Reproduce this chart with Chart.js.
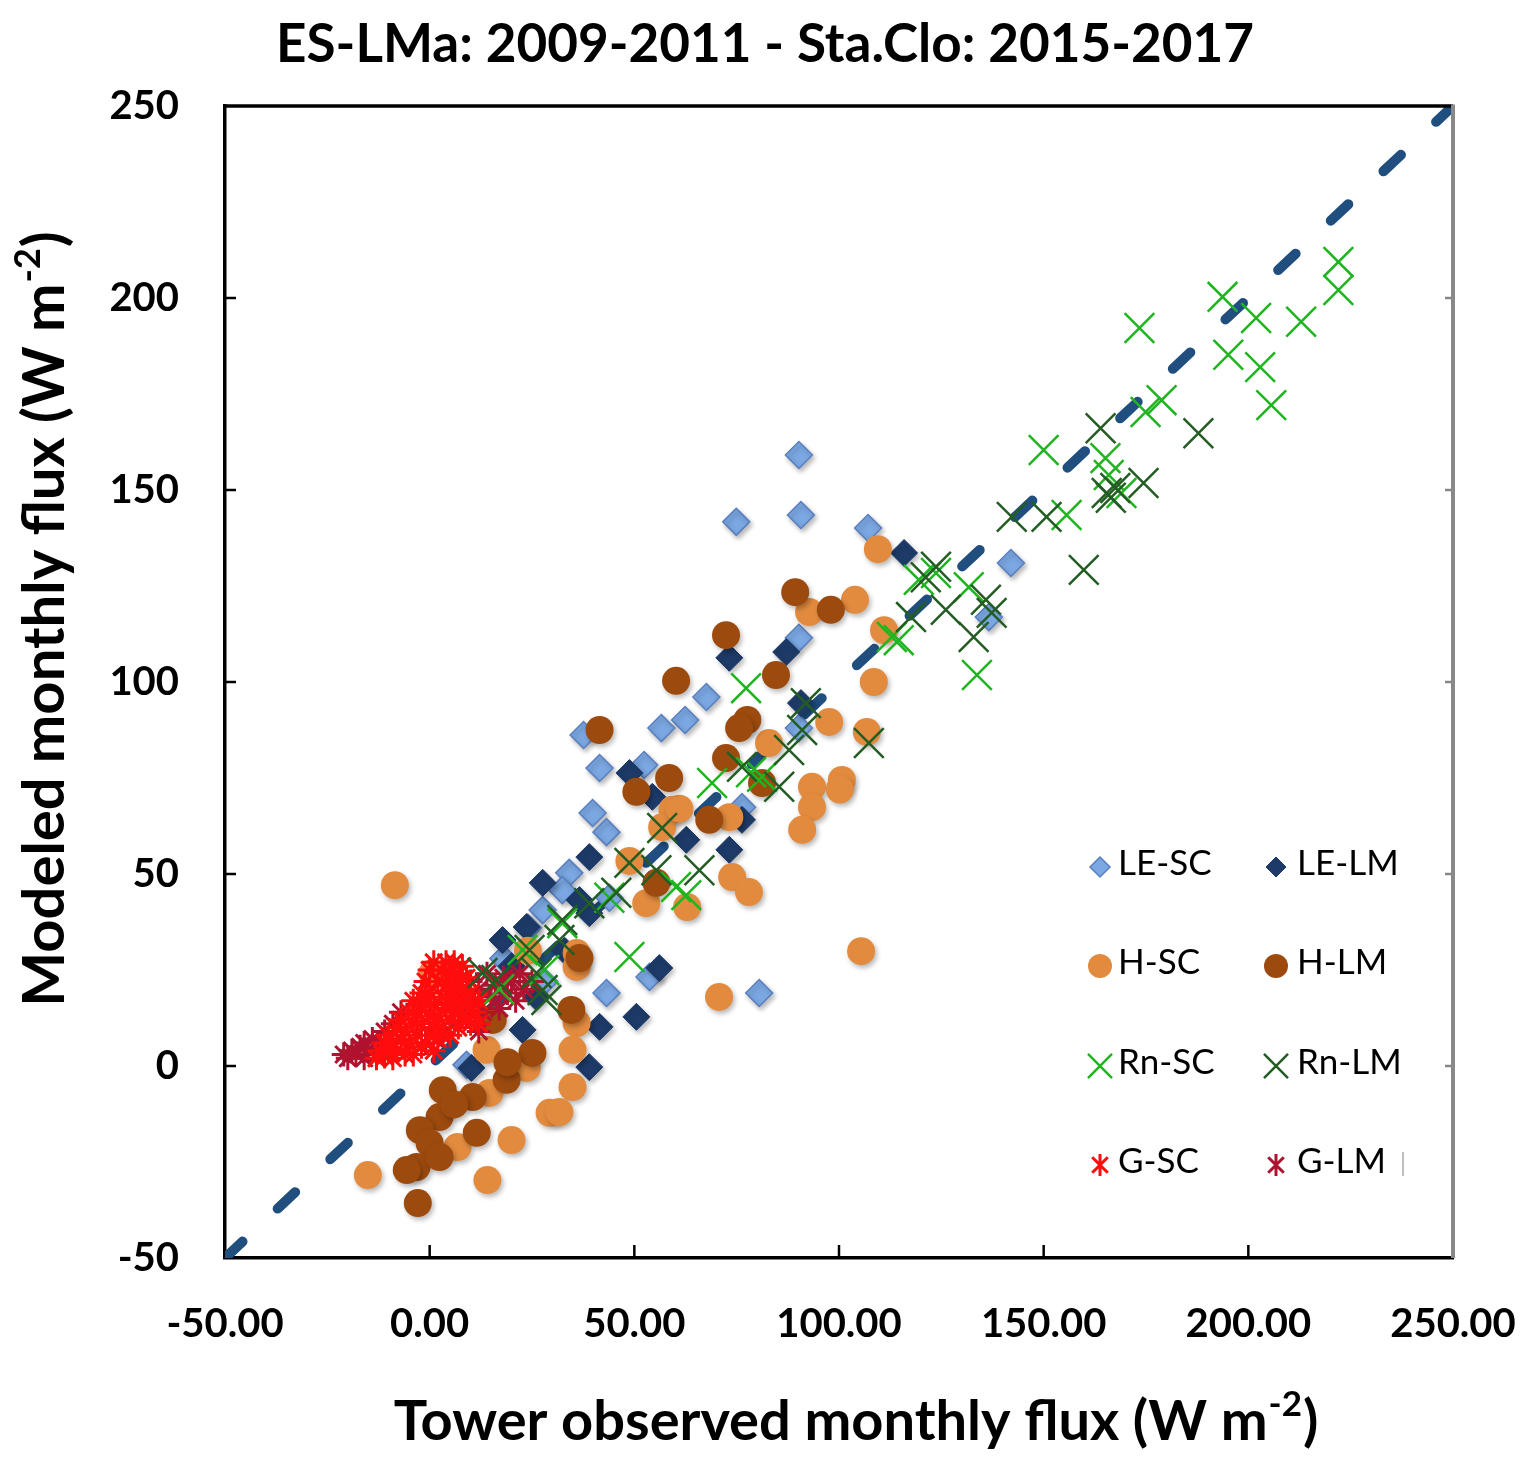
<!DOCTYPE html>
<html><head><meta charset="utf-8">
<script src="https://cdn.jsdelivr.net/npm/chart.js@4.4.1/dist/chart.umd.min.js"></script>
<style>html,body{margin:0;padding:0;background:#fff}#wrap{width:1539px;height:1472px;position:relative}</style>
</head><body><div id="wrap"><canvas id="c"></canvas></div>
<script>
// ---- text ----
const chartTitle = 'ES-LMa: 2009-2011 - Sta.Clo: 2015-2017';
const xTitleParts = ['Tower observed monthly flux (W m', '-2', ')'];
const yTitleParts = ['Modeled monthly flux (W m', '-2', ')'];
const xTickLabels = ['-50.00', '0.00', '50.00', '100.00', '150.00', '200.00', '250.00'];
const yTickLabels = ['-50', '0', '50', '100', '150', '200', '250'];
const seriesNames = ['LE-SC', 'LE-LM', 'H-SC', 'H-LM', 'Rn-SC', 'Rn-LM', 'G-SC', 'G-LM'];

// ---- data [observed, modeled] ----
const leSC = [[90.2,159.1],[74.9,141.7],[90.7,143.5],[107.1,140.1],[142.0,131.0],[136.6,116.9],[90.2,111.5],[67.6,96.1],[62.4,90.1],[56.6,88.0],[37.6,86.2],[41.5,77.6],[52.4,78.4],[39.8,65.9],[43.2,60.9],[90.2,88.0],[76.3,67.4],[34.1,50.3],[32.4,45.8],[27.6,40.6],[43.9,43.8],[43.2,19.0],[80.5,19.0],[53.7,23.2],[9.0,0.3],[24.0,36.0],[18.0,28.0],[28.0,22.0]];
const leLM = [[115.9,133.6],[73.2,106.3],[87.1,107.8],[90.7,94.5],[76.3,64.1],[73.2,56.3],[48.8,76.3],[54.4,70.1],[62.7,58.9],[39.0,54.4],[27.6,47.7],[36.6,43.2],[39.0,39.8],[23.7,36.2],[56.1,25.5],[50.5,12.8],[41.5,10.2],[39.0,-0.3],[22.7,9.4],[17.8,32.8],[10.2,-0.5],[33.0,30.0],[26.0,18.0],[20.0,26.0]];
const hSC = [[-8.5,47.1],[109.5,134.6],[103.9,121.4],[111.0,113.5],[92.7,118.2],[108.5,100.0],[97.6,89.6],[106.8,87.0],[82.9,84.1],[93.4,72.7],[100.7,74.5],[93.4,67.4],[91.0,61.5],[73.2,64.8],[59.3,66.7],[56.8,62.2],[48.8,53.4],[52.9,42.4],[62.9,41.4],[73.9,49.2],[78.0,45.3],[70.7,18.0],[105.4,29.9],[35.9,29.4],[35.9,25.8],[35.9,11.2],[34.9,4.2],[34.9,-5.5],[29.3,-12.2],[31.7,-12.0],[20.0,-19.3],[14.1,-29.7],[-15.1,-28.4],[6.8,-21.1],[14.6,-7.0],[13.9,4.2],[23.7,-0.5],[0.7,24.2],[24.0,30.0],[100.2,72.0],[61.0,67.0]];
const hLM = [[89.3,123.4],[98.0,118.8],[72.4,112.2],[60.2,100.3],[84.6,101.8],[41.5,87.5],[77.6,90.1],[75.6,88.0],[72.4,80.2],[58.5,75.0],[50.5,71.4],[68.3,64.1],[81.2,73.7],[55.4,47.7],[36.6,28.1],[34.6,14.6],[25.1,3.4],[18.8,-3.6],[19.0,1.0],[3.2,-6.3],[10.5,-8.1],[2.4,-13.3],[11.5,-17.4],[-2.4,-16.7],[0.0,-20.1],[-3.2,-26.3],[-5.6,-27.1],[-2.9,-35.7],[15.4,12.0],[2.4,-23.7],[6.0,-10.0]];
const rnSC = [[222.0,209.4],[222.0,202.1],[193.7,200.3],[201.9,194.8],[212.9,193.8],[195.1,185.2],[202.9,182.0],[205.6,172.1],[173.4,192.2],[178.8,173.4],[174.9,170.3],[150.0,160.4],[165.1,158.3],[165.9,153.9],[169.0,149.2],[155.6,143.5],[119.5,126.6],[123.7,128.4],[131.7,124.7],[112.9,111.7],[114.6,110.9],[133.7,101.8],[77.3,98.4],[69.0,73.7],[81.2,75.3],[78.5,76.5],[48.8,28.4],[43.9,43.8],[62.7,44.5],[60.2,46.6],[32.4,37.2],[22.7,30.2],[28.0,25.0],[17.0,20.0]];
const rnLM = [[187.8,164.8],[163.9,166.1],[159.8,129.2],[174.4,151.8],[165.4,149.2],[166.4,148.0],[167.5,150.5],[142.2,143.0],[150.7,143.0],[123.7,130.0],[121.2,127.3],[135.9,121.4],[137.3,118.0],[126.1,118.8],[117.6,116.9],[132.9,111.7],[91.9,94.5],[91.0,87.5],[87.8,82.3],[107.3,84.1],[76.3,77.9],[85.4,72.7],[56.8,62.0],[48.8,52.9],[55.4,51.0],[65.9,51.0],[39.0,42.4],[32.4,38.0],[31.7,32.8],[24.4,30.2],[26.1,24.2],[28.5,17.2],[12.9,24.2],[16.3,22.4],[27.6,19.8],[45.6,45.1]];
const gSC = [[-13,2],[-12,4],[-11,6],[-11,2.5],[-10,8],[-10,4],[-9,2],[-9,6],[-8,10],[-8,4],[-7,7],[-7,12],[-6,3],[-6,9],[-5,14],[-5,6],[-4,11],[-4,17],[-4,3],[-3,8],[-3,14],[-2,19],[-2,5],[-2,11],[-1,16],[-1,22],[0,8],[0,13],[0,19],[0,25],[1,4],[1,10],[1,16],[1,27],[2,22],[2,7],[2,13],[3,18],[3,25],[3,10],[4,15],[4,21],[4,27],[5,8],[5,12],[5,18],[5,24],[6,14],[6,21],[6,27],[7,10],[7,17],[7,24],[8,13],[8,20],[8,26],[9,16],[9,23],[10,11],[10,19],[11,14],[12,17],[12,11]];
const gLM = [[-21,3],[-20,2],[-19,4],[-18,3],[-17,5],[-16,2],[-16,6],[-15,4],[-14,7],[-13,3],[-12,6],[-11,9],[-9,11],[-7,14],[-3,16],[-1,6],[3,8],[6,11],[7,16],[8,19],[9,13],[10,22],[11,17],[12,20],[13,14],[14,24],[15,18],[16,21],[17,15],[18,23],[19,19],[20,22],[21,17],[22,24],[23,20],[25,22],[12,9]];
const oneToOne = [[-50,-50],[250,250]];

const toXY = a => a.map(p => ({x: p[0], y: p[1]}));
const FONT = 'Lato, "Open Sans", sans-serif';

const styles = [
  {style:'rectRot', r:13.5, bg:'#7ba7e2', bc:'#587fc0', bw:1.5, lr:10},
  {style:'rectRot', r:13.5, bg:'#1d3a68', bc:'#1d3a68', bw:1, lr:10},
  {style:'circle', r:14, bg:'#e28b3f', bc:'#e28b3f', bw:0, lr:12},
  {style:'circle', r:14, bg:'#9c4a0e', bc:'#9c4a0e', bw:0, lr:12},
  {style:'crossRot', r:21, bg:'#1fb51f', bc:'#1fb51f', bw:2.5, lr:17},
  {style:'crossRot', r:21, bg:'#235d23', bc:'#235d23', bw:2.5, lr:17},
  {style:'star', r:12, bg:'#ff0d0d', bc:'#ff0d0d', bw:3, lr:11},
  {style:'star', r:12, bg:'#b0132f', bc:'#b0132f', bw:3, lr:11}
];
const seriesData = [leSC, leLM, hSC, hLM, rnSC, rnLM, gSC, gLM];
const drawOrder = [8, 7, 6, 5, 2, 1, 3, 4]; // lower = drawn on top

const datasets = seriesData.map((d, i) => ({
  label: seriesNames[i],
  type: 'scatter',
  data: toXY(d),
  pointStyle: styles[i].style,
  pointRadius: styles[i].r,
  pointHoverRadius: styles[i].r,
  backgroundColor: styles[i].bg,
  borderColor: styles[i].bc,
  pointBorderWidth: styles[i].bw,
  borderWidth: styles[i].bw,
  order: drawOrder[i],
  shadow: (styles[i].style === 'rectRot' || styles[i].style === 'circle')
}));
datasets.push({
  label: '1:1',
  type: 'line',
  data: toXY(oneToOne),
  borderColor: '#1f4e7f',
  borderWidth: 10,
  borderDash: [24, 48.2],
  borderCapStyle: 'round',
  pointRadius: 0,
  fill: false,
  order: 20
});

function drawMarker(ctx, style, x, y, r, s) {
  ctx.save();
  ctx.fillStyle = s.bg; ctx.strokeStyle = s.bc; ctx.lineWidth = s.bw || 1;
  ctx.beginPath();
  if (style === 'rectRot') {
    ctx.moveTo(x - r, y); ctx.lineTo(x, y - r); ctx.lineTo(x + r, y); ctx.lineTo(x, y + r); ctx.closePath();
    ctx.fill(); if (s.bw) ctx.stroke();
  } else if (style === 'circle') {
    ctx.arc(x, y, r, 0, Math.PI * 2); ctx.fill();
  } else if (style === 'crossRot') {
    const o = r * Math.SQRT1_2;
    ctx.moveTo(x - o, y - o); ctx.lineTo(x + o, y + o);
    ctx.moveTo(x - o, y + o); ctx.lineTo(x + o, y - o); ctx.stroke();
  } else if (style === 'star') {
    const o = r * Math.SQRT1_2;
    ctx.moveTo(x, y - r); ctx.lineTo(x, y + r);
    ctx.moveTo(x - o, y - o); ctx.lineTo(x + o, y + o);
    ctx.moveTo(x - o, y + o); ctx.lineTo(x + o, y - o); ctx.stroke();
  }
  ctx.restore();
}

function drawSup(ctx, parts, x, y, size, align) {
  ctx.font = 'bold ' + size + 'px ' + FONT;
  const w0 = ctx.measureText(parts[0]).width;
  const w2 = ctx.measureText(parts[2]).width;
  ctx.font = 'bold ' + Math.round(size * 0.62) + 'px ' + FONT;
  const w1 = ctx.measureText(parts[1]).width;
  const total = w0 + w1 + w2 + 2;
  let sx = align === 'center' ? x - total / 2 : x;
  ctx.textAlign = 'left'; ctx.textBaseline = 'alphabetic';
  ctx.font = 'bold ' + size + 'px ' + FONT;
  ctx.fillText(parts[0], sx, y);
  ctx.font = 'bold ' + Math.round(size * 0.62) + 'px ' + FONT;
  ctx.fillText(parts[1], sx + w0 + 1, y - size * 0.42);
  ctx.font = 'bold ' + size + 'px ' + FONT;
  ctx.fillText(parts[2], sx + w0 + w1 + 2, y);
}

const decor = {
  id: 'decor',
  beforeDatasetDraw(chart, args) {
    const ds = chart.data.datasets[args.index];
    const ctx = chart.ctx;
    ctx.save();
    if (ds.shadow) {
      ctx.shadowColor = 'rgba(0,0,0,0.28)';
      ctx.shadowBlur = 5; ctx.shadowOffsetX = 2; ctx.shadowOffsetY = 3;
    }
  },
  afterDatasetDraw(chart) { chart.ctx.restore(); },
  afterDraw(chart) {
    const ctx = chart.ctx, a = chart.chartArea;
    const xs = chart.scales.x, ys = chart.scales.y;
    ctx.save();
    // top border
    ctx.strokeStyle = '#000'; ctx.lineWidth = 3.5;
    ctx.beginPath(); ctx.moveTo(a.left - 1.5, a.top); ctx.lineTo(a.right, a.top); ctx.stroke();
    // right border (grey)
    ctx.strokeStyle = '#888'; ctx.lineWidth = 4;
    ctx.beginPath(); ctx.moveTo(a.right, a.top - 1.5); ctx.lineTo(a.right, a.bottom); ctx.stroke();
    // inward ticks
    ctx.lineWidth = 2.5;
    [0, 50, 100, 150, 200].forEach(v => {
      const py = ys.getPixelForValue(v);
      ctx.strokeStyle = '#000';
      ctx.beginPath(); ctx.moveTo(a.left, py); ctx.lineTo(a.left + 11, py); ctx.stroke();
      ctx.strokeStyle = '#888';
      ctx.beginPath(); ctx.moveTo(a.right, py); ctx.lineTo(a.right - 8, py); ctx.stroke();
      const px = xs.getPixelForValue(v);
      ctx.strokeStyle = '#000';
      ctx.beginPath(); ctx.moveTo(px, a.bottom); ctx.lineTo(px, a.bottom - 13); ctx.stroke();
    });
    // titles
    ctx.fillStyle = '#000';
    ctx.font = 'bold 53px ' + FONT; ctx.textAlign = 'center'; ctx.textBaseline = 'alphabetic';
    ctx.fillText(chartTitle, 765, 62);
    drawSup(ctx, xTitleParts, 856, 1440, 56, 'center');
    ctx.save();
    ctx.translate(64, 619); ctx.rotate(-Math.PI / 2);
    drawSup(ctx, yTitleParts, 0, 0, 58, 'center');
    ctx.restore();
    // legend
    const colX = [[1100, 1118], [1276, 1297]];
    const rowY = [864, 963, 1063, 1162];
    ctx.font = '35px ' + FONT; ctx.textAlign = 'left'; ctx.textBaseline = 'middle';
    seriesNames.forEach((n, i) => {
      const c = colX[i % 2], yy = rowY[Math.floor(i / 2)];
      const s = styles[i];
      drawMarker(ctx, s.style, c[0], yy + 3, s.lr, s);
      ctx.fillStyle = '#000';
      ctx.fillText(n, c[1], yy);
    });
    ctx.strokeStyle = '#aaa'; ctx.lineWidth = 1.5;
    ctx.beginPath(); ctx.moveTo(1403, 1152); ctx.lineTo(1403, 1176); ctx.stroke();
    ctx.restore();
  }
};

new Chart(document.getElementById('c'), {
  data: { datasets },
  options: {
    responsive: true, maintainAspectRatio: false, animation: false, events: [],
    layout: { padding: { top: 106, right: 86, bottom: 0, left: 0 } },
    plugins: { legend: { display: false }, tooltip: { enabled: false }, title: { display: false } },
    scales: {
      x: {
        type: 'linear', min: -50, max: 250,
        afterFit: s => { s.height = 214; s.paddingLeft = 0; s.paddingRight = 0; },
        grid: { display: false, drawTicks: false },
        border: { display: true, color: '#000', width: 3.5 },
        ticks: { stepSize: 50, padding: 42, color: '#000', font: { family: FONT, size: 40, weight: 'bold' },
          callback: (v, i) => xTickLabels[i] }
      },
      y: {
        type: 'linear', min: -50, max: 250,
        afterFit: s => { s.width = 225; s.paddingTop = 0; s.paddingBottom = 0; },
        grid: { display: false, drawTicks: false },
        border: { display: true, color: '#000', width: 3.5 },
        ticks: { stepSize: 50, padding: 46, color: '#000', font: { family: FONT, size: 40, weight: 'bold' },
          callback: (v, i) => yTickLabels[i] }
      }
    }
  },
  plugins: [decor]
});
</script></body></html>
